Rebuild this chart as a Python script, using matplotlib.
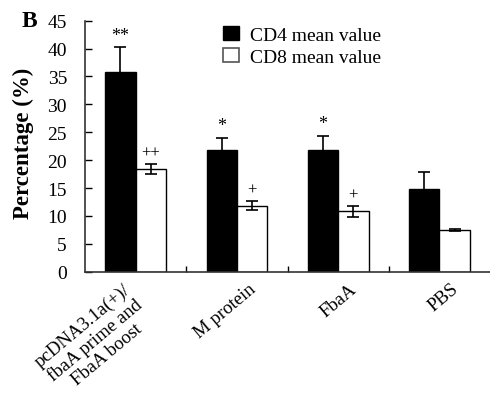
import matplotlib
matplotlib.use("Agg")
import matplotlib.pyplot as plt
import matplotlib.transforms as mtransforms
from matplotlib.patches import Patch
import numpy as np

plt.rcParams['font.family'] = ['Liberation Serif', 'DejaVu Serif']

categories = ["pcDNA3.1a(+)/\nfbaA prime and\nFbaA boost", "M protein", "FbaA", "PBS"]
cd4_mean = [35.8, 21.8, 21.8, 14.9]
cd4_err = [4.5, 2.2, 2.6, 3.0]
cd8_mean = [18.4, 11.8, 10.8, 7.5]
cd8_err = [0.9, 0.8, 0.95, 0.15]
cd4_marks = ["**", "*", "*", ""]
cd8_marks = ["++", "+", "+", ""]
yticks = [0, 5, 10, 15, 20, 25, 30, 35, 40, 45]

fig = plt.figure(figsize=(4.9, 4.1), dpi=100)
ax = fig.add_axes([0.1735, 0.335, 0.8265, 0.612])

x = np.arange(len(categories))
w = 0.3
ax.bar(x - w/2, cd4_mean, w, color='black', edgecolor='black', linewidth=1, label='CD4 mean value', zorder=2)
ax.bar(x + w/2, cd8_mean, w, color='white', edgecolor='black', linewidth=1, label='CD8 mean value', zorder=2)
ax.errorbar(x - w/2, cd4_mean, yerr=cd4_err, fmt='none', ecolor='black', elinewidth=1.2, capsize=4, capthick=1.2, zorder=3)
ax.errorbar(x + w/2, cd8_mean, yerr=cd8_err, fmt='none', ecolor='black', elinewidth=1.2, capsize=4, capthick=1.2, zorder=3)

for i in range(len(categories)):
    if cd4_marks[i]:
        ax.text(x[i] - w/2, cd4_mean[i] + cd4_err[i] + 0.6, cd4_marks[i], ha='center', va='bottom', fontsize=13)
    if cd8_marks[i]:
        ax.text(x[i] + w/2, cd8_mean[i] + cd8_err[i] + 0.6, cd8_marks[i], ha='center', va='bottom', fontsize=12)

ax.set_xlim(-0.5, 3.5)
ax.set_ylim(0, 45)
ax.set_yticks(yticks)
ax.set_yticklabels([str(v) for v in yticks], fontsize=14)
ax.tick_params(axis='y', direction='in', length=5, width=1, pad=13)

ax.set_xticks(x)
ax.set_xticklabels(categories, rotation=40, ha='right', fontsize=13.5, multialignment='center', linespacing=1.1)
ax.tick_params(axis='x', length=0, pad=6)
offset = mtransforms.ScaledTranslation(22/100, 0, fig.dpi_scale_trans)
for lbl in ax.get_xticklabels():
    lbl.set_transform(lbl.get_transform() + offset)
ax.set_xticks([0.5, 1.5, 2.5], minor=True)
ax.tick_params(axis='x', which='minor', direction='in', length=4, width=1)

for s in ['top', 'right']:
    ax.spines[s].set_visible(False)
for s in ['left', 'bottom']:
    ax.spines[s].set_linewidth(1.2)
    ax.spines[s].set_color('#333333')

ax.set_ylabel('Percentage (%)', fontsize=16.5, fontweight='bold')
ax.yaxis.set_label_coords(-0.125, 0.514)

handles = [Patch(facecolor='black', edgecolor='black'), Patch(facecolor='white', edgecolor='#555555', linewidth=1.2)]
fig.legend(handles, ['CD4 mean value', 'CD8 mean value'], loc='upper left', bbox_to_anchor=(0.42, 0.978),
           frameon=False, fontsize=14, handlelength=0.8, handleheight=0.8, handletextpad=0.55, labelspacing=0.2)

fig.text(0.061, 0.947, 'B', fontsize=17, fontweight='bold', ha='center', va='center')

fig.savefig('out.png', dpi=100)
